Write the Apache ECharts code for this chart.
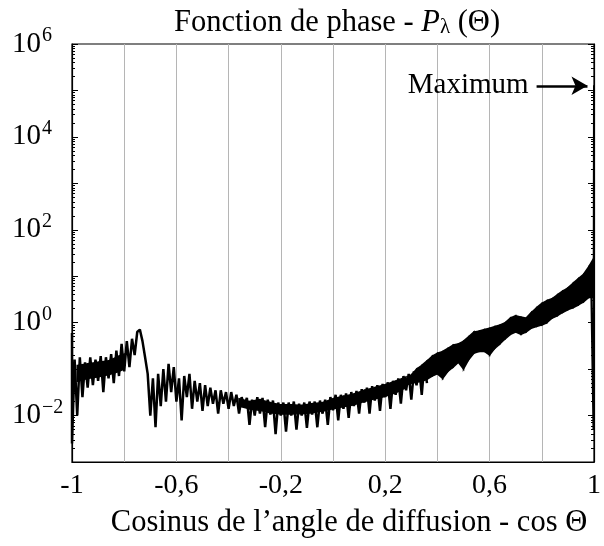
<!DOCTYPE html>
<html><head><meta charset="utf-8">
<script src="https://cdn.jsdelivr.net/npm/echarts@6/dist/echarts.min.js"></script>
<style>html,body{margin:0;padding:0;background:#fff}#c{width:604px;height:546px}</style>
</head><body><div id="c"></div><script>
// ---- axis ticks / labels ----
const xTickValues = [-1, -0.6, -0.2, 0.2, 0.6, 1];
const xTickLabels = ['-1', '-0,6', '-0,2', '0,2', '0,6', '1'];
const yLabelValues = [1e-2, 1, 1e2, 1e4, 1e6];
const yLabelExps = ['−2', '0', '2', '4', '6'];
const yMajorValues = [1e-3, 1e-2, 1e-1, 1, 1e1, 1e2, 1e3, 1e4, 1e5, 1e6];

// ---- phase function samples (step 0.01) ----
const STEP = 0.01;
const segAStart = -1.00;
const segA = [0.0025, 0.16, 0.010, 0.18, 0.025, 0.14, 0.040, 0.18, 0.045, 0.16,
  0.056, 0.19, 0.032, 0.18, 0.063, 0.21, 0.050, 0.25, 0.071, 0.35,
  0.089, 0.40, 0.11, 0.45, 0.20, 0.63, 0.71, 0.40, 0.18, 0.079];
const segBStart = -0.70;
const segB = [0.010, 0.063, 0.0056, 0.079, 0.016, 0.10, 0.020, 0.13, 0.032, 0.11,
  0.020, 0.063, 0.0079, 0.071, 0.025, 0.079, 0.014, 0.056, 0.020, 0.050,
  0.0126, 0.045, 0.016, 0.040, 0.018, 0.035, 0.011, 0.035, 0.018, 0.032,
  0.014, 0.032, 0.016, 0.028, 0.011, 0.025, 0.016, 0.024, 0.0063, 0.022];
const segCStart = -0.30;
const segC = [0.010, 0.025, 0.011, 0.024, 0.0056, 0.022, 0.0105, 0.021, 0.0040, 0.019,
  0.010, 0.019, 0.0045, 0.019, 0.010, 0.020, 0.0050, 0.018, 0.010, 0.019,
  0.0054, 0.020, 0.0105, 0.020, 0.0056, 0.021, 0.011, 0.022, 0.0063, 0.025,
  0.013, 0.028, 0.0079, 0.028, 0.014, 0.030, 0.0089, 0.032, 0.016, 0.034];
const segDStart = 0.10;
const segD = [0.011, 0.037, 0.019, 0.040, 0.011, 0.043, 0.021, 0.045, 0.0126, 0.048,
  0.025, 0.052, 0.014, 0.056, 0.028, 0.063, 0.018, 0.071, 0.035, 0.079,
  0.022, 0.089, 0.045, 0.11, 0.028, 0.13, 0.050];
const leftEdgeX = [-1, -1];
const leftEdgeY = [0.6, 0.0025];

// dense cores of the oscillating signal (upper / lower envelope)
const leftBandX = [-0.98, -0.94, -0.90, -0.86, -0.82, -0.80];
const leftBandHi = [0.12, 0.13, 0.14, 0.15, 0.19, 0.21];
const leftBandLo = [0.055, 0.063, 0.068, 0.076, 0.089, 0.10];
const midBandX = [-0.36, -0.32, -0.28, -0.24, -0.20, -0.16, -0.12, -0.08, -0.04,
  0.00, 0.04, 0.08, 0.12, 0.16, 0.20, 0.24, 0.28];
const midBandHi = [0.023, 0.020, 0.022, 0.019, 0.017, 0.017, 0.0165, 0.018, 0.019,
  0.023, 0.026, 0.029, 0.035, 0.040, 0.046, 0.055, 0.068];
const midBandLo = [0.016, 0.014, 0.013, 0.0115, 0.0108, 0.0108, 0.011, 0.0115, 0.0125,
  0.014, 0.0155, 0.017, 0.020, 0.023, 0.026, 0.031, 0.040];
const bandX = [0.28, 0.30, 0.32, 0.34, 0.36, 0.38, 0.40, 0.42, 0.44,
  0.46, 0.48, 0.50, 0.52, 0.54, 0.56, 0.58, 0.60, 0.62, 0.64,
  0.66, 0.68, 0.70, 0.72, 0.74, 0.76, 0.78, 0.80, 0.82, 0.84,
  0.86, 0.88, 0.90, 0.92, 0.94, 0.96, 0.98, 1.00];
const bandHi = [0.060, 0.075, 0.10, 0.12, 0.15, 0.19, 0.22, 0.24, 0.28,
  0.33, 0.35, 0.40, 0.50, 0.63, 0.66, 0.71, 0.76, 0.83, 0.89,
  1.0, 1.26, 1.41, 1.32, 1.26, 1.66, 2.1, 2.6, 3.0, 3.3,
  4.0, 4.8, 5.6, 7.1, 8.9, 11, 16, 25];
const bandLo = [0.045, 0.050, 0.052, 0.055, 0.060, 0.071, 0.079, 0.063, 0.089,
  0.11, 0.14, 0.10, 0.16, 0.22, 0.24, 0.24, 0.20, 0.28, 0.35,
  0.45, 0.56, 0.63, 0.56, 0.63, 0.76, 0.83, 0.89, 1.0, 1.26,
  1.41, 1.66, 1.9, 2.1, 2.4, 2.8, 3.5, 3.5];
// forward peak at cos = 1
const rightEdgeX = [0.99, 0.998, 1.0];
const rightEdgeY = [3.5, 0.005, 1.3e5];
const maxArrowX = [0.78, 0.975];
const maxArrowY = 1.26e5;

function seg(start, vals) { return vals.map((v, i) => [+(start + i * STEP).toFixed(3), v]); }
const curve = leftEdgeX.map((x, i) => [x, leftEdgeY[i]])
  .concat(seg(segAStart, segA), seg(segBStart, segB), seg(segCStart, segC), seg(segDStart, segD));
const edge = rightEdgeX.map((x, i) => [x, rightEdgeY[i]]);

const yMinor = [];
yMajorValues.slice(0, -1).forEach(d => { for (let k = 2; k <= 9; k++) yMinor.push(d * k); });

const FONT = 'Liberation Serif';
const chart = echarts.init(document.getElementById('c'), null, { renderer: 'canvas' });
const logAxis = (extra) => Object.assign({
  type: 'log', logBase: 10, min: 1e-3, max: 1e6, splitLine: { show: false },
  axisLine: { show: false, onZero: false }, axisLabel: { show: false }, axisTick: { show: false }
}, extra);

function bandSeries(xs, hi, lo) {
  return {
    type: 'custom', clip: true, yAxisIndex: 0, z: 2,
    data: xs.map((x, i) => [x, hi[i], lo[i]]),
    encode: { x: 0, y: [1, 2] },
    renderItem: (params, api) => {
      const i = params.dataIndex;
      if (i >= xs.length - 1) return null;
      const pts = [
        api.coord([xs[i], hi[i]]), api.coord([xs[i + 1], hi[i + 1]]),
        api.coord([xs[i + 1], lo[i + 1]]), api.coord([xs[i], lo[i]])
      ];
      return { type: 'polygon', shape: { points: pts }, style: { fill: '#000', stroke: '#000', lineWidth: 1.5 } };
    }
  };
}

chart.setOption({
  animation: false,
  backgroundColor: '#fff',
  title: {
    left: 332, top: 2, textAlign: 'center',
    text: '{a|Fonction de phase - }{p|P}{l|λ}{a| (Θ)}',
    textStyle: { fontWeight: 'normal', rich: {
      a: { fontFamily: FONT, fontSize: 30.5, fontWeight: 'normal', color: '#000' },
      p: { fontFamily: FONT, fontSize: 30.5, fontStyle: 'italic', fontWeight: 'normal', color: '#000' },
      l: { fontFamily: FONT, fontSize: 21, fontWeight: 'normal', color: '#000', padding: [10, 0, 0, 0] }
    } }
  },
  grid: { left: 72, right: 4, top: 44, bottom: 84, show: true, borderColor: '#000', borderWidth: 1.2 },
  xAxis: [{
    type: 'value', min: -1, max: 1, interval: 0.2,
    name: 'Cosinus de l’angle de diffusion - cos Θ', nameLocation: 'middle', nameGap: 45,
    nameTextStyle: { fontFamily: FONT, fontSize: 30.5, color: '#000', padding: [0, 0, 0, 32] },
    axisLine: { show: true, onZero: false, lineStyle: { color: '#000', width: 1.2 } },
    axisTick: { show: false },
    splitLine: { show: true, lineStyle: { color: '#b5b5b5', width: 1 } },
    axisLabel: {
      customValues: xTickValues, margin: 10, fontFamily: FONT, fontSize: 28, color: '#000',
      formatter: v => { const k = xTickValues.findIndex(t => Math.abs(t - v) < 1e-6); return k >= 0 ? xTickLabels[k] : ''; }
    }
  }],
  yAxis: [
    logAxis({
      position: 'left',
      axisLine: { show: true, onZero: false, lineStyle: { color: '#000', width: 1.2 } },
      axisTick: { show: true, inside: true, length: 6, customValues: yMajorValues, lineStyle: { color: '#000' } },
      axisLabel: {
        show: true, customValues: yLabelValues, align: 'left', margin: 60,
        formatter: v => { const k = yLabelValues.findIndex(t => Math.abs(Math.log10(t) - Math.log10(v)) < 1e-6); return k >= 0 ? '{b|10}{s|' + yLabelExps[k] + '}' : ''; },
        rich: {
          b: { fontFamily: FONT, fontSize: 29, color: '#000' },
          s: { fontFamily: FONT, fontSize: 20, color: '#000', padding: [0, 0, 16, 1] }
        }
      }
    }),
    logAxis({ position: 'left', axisTick: { show: true, inside: true, length: 3, customValues: yMinor, lineStyle: { color: '#000' } } }),
    logAxis({
      position: 'right',
      axisLine: { show: true, onZero: false, lineStyle: { color: '#000', width: 1.2 } },
      axisTick: { show: true, inside: true, length: 6, customValues: yMajorValues, lineStyle: { color: '#000' } }
    }),
    logAxis({ position: 'right', axisTick: { show: true, inside: true, length: 3, customValues: yMinor, lineStyle: { color: '#000' } } })
  ],
  series: [
    bandSeries(leftBandX, leftBandHi, leftBandLo),
    bandSeries(midBandX, midBandHi, midBandLo),
    bandSeries(bandX, bandHi, bandLo),
    {
      type: 'line', data: curve, showSymbol: false, symbol: 'none', clip: true,
      lineStyle: { color: '#000', width: 2.5 }, z: 3
    },
    {
      type: 'line', data: edge, showSymbol: false, symbol: 'none', clip: true,
      lineStyle: { color: '#000', width: 2 }, z: 3,
      markLine: {
        silent: true, symbol: ['none', 'arrow'], symbolSize: [14, 16],
        lineStyle: { color: '#000', width: 2.5, type: 'solid' },
        label: { show: true, position: 'start', distance: 8, formatter: 'Maximum', fontFamily: FONT, fontSize: 29, color: '#000' },
        data: [[{ coord: [maxArrowX[0], maxArrowY] }, { coord: [maxArrowX[1], maxArrowY] }]]
      }
    }
  ]
});
</script></body></html>
